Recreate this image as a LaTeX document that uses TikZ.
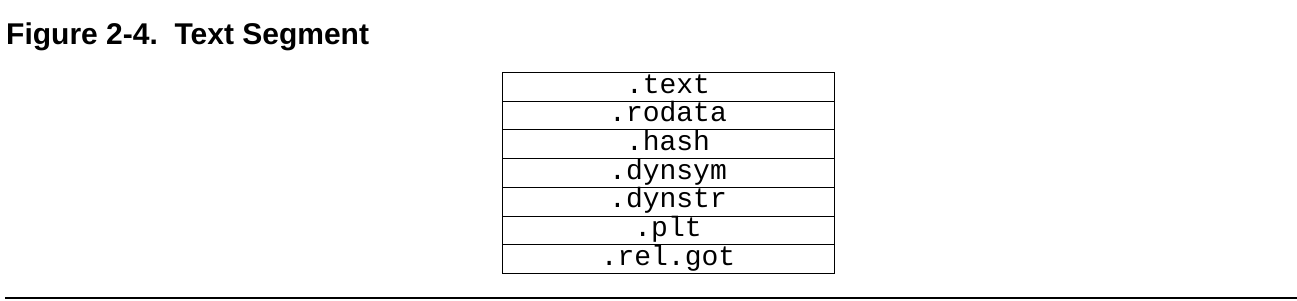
\documentclass[tikz,border=0pt]{standalone}
\usepackage{fontspec}
\setmainfont{Liberation Sans}
\newfontfamily\secmono{Liberation Mono}
\begin{document}
\begin{tikzpicture}[x=1pt,y=-1pt,
  segrow/.style={draw=black, line width=0.9pt, minimum width=332pt, minimum height=28.7pt,
    inner xsep=0pt, inner ysep=0pt, text height=20.7pt, text depth=8pt, anchor=north,
    font=\secmono\fontsize{28}{30}\selectfont},
  titletext/.style={anchor=base west, inner sep=0pt, font=\fontsize{30}{36}\selectfont\bfseries}]
\useasboundingbox (0,0) rectangle (1297,300);
\node[titletext] (title) at (6,44) {Figure 2-4.\ \ Text Segment};
\foreach \lbl [count=\i from 0] in {.text,.rodata,.hash,.dynsym,.dynstr,.plt,.rel.got}{
  \node[segrow] (row\i) at (668,72+28.7*\i) {\lbl};
}
\coordinate (ruleL) at (5,298);
\coordinate (ruleR) at (1297,298);
\draw[line width=1.4pt] (ruleL) -- (ruleR);
\end{tikzpicture}
\end{document}
